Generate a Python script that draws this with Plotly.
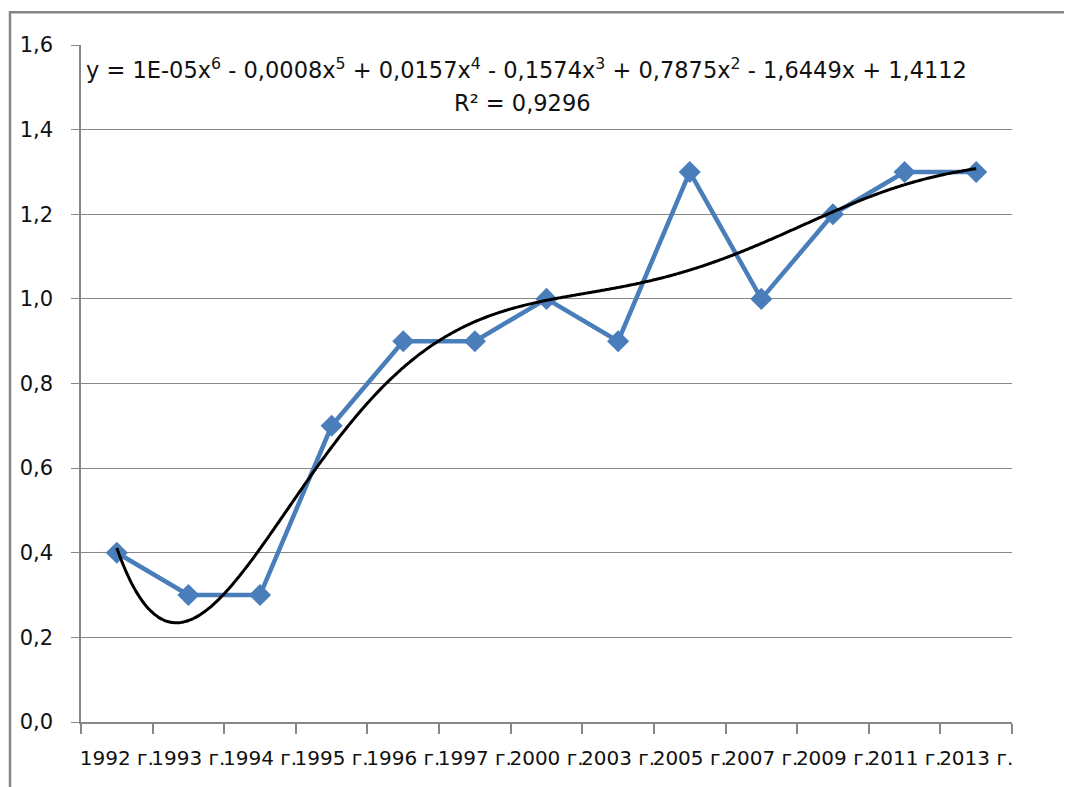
import numpy as np
import plotly.graph_objects as go

categories = ["1992 г.", "1993 г.", "1994 г.", "1995 г.", "1996 г.", "1997 г.",
              "2000 г.", "2003 г.", "2005 г.", "2007 г.", "2009 г.", "2011 г.", "2013 г."]
values = [0.4, 0.3, 0.3, 0.7, 0.9, 0.9, 1.0, 0.9, 1.3, 1.0, 1.2, 1.3, 1.3]
y_ticks = [0.0, 0.2, 0.4, 0.6, 0.8, 1.0, 1.2, 1.4, 1.6]
equation_text = ("y = 1E-05x<sup>6</sup> - 0,0008x<sup>5</sup> + 0,0157x<sup>4</sup> - 0,1574x<sup>3</sup>"
                 " + 0,7875x<sup>2</sup> - 1,6449x + 1,4112")
r2_text = "R² = 0,9296"

# category index positions (1..n), like Excel's trendline x
xs = np.arange(1, len(categories) + 1)

# polynomial (order 6) trendline fitted to the data, as Excel does
coef = np.polyfit(xs, values, 6)
x_fine = np.linspace(1, len(categories), 400)
y_fine = np.polyval(coef, x_fine)

FONT = "DejaVu Sans"
GRID = "#868686"
TXT = "#111111"

fig = go.Figure()
fig.add_trace(go.Scatter(
    x=xs, y=values, mode="lines+markers",
    line=dict(color="#4A7EBB", width=4.5),
    marker=dict(symbol="diamond", size=17, color="#4A7EBB"),
    showlegend=False, hoverinfo="skip",
))
fig.add_trace(go.Scatter(
    x=x_fine, y=y_fine, mode="lines",
    line=dict(color="#000000", width=3, shape="spline"),
    showlegend=False, hoverinfo="skip",
))

fig.update_layout(
    width=1072, height=787,
    margin=dict(l=73, r=68, t=37, b=73),
    paper_bgcolor="white", plot_bgcolor="white",
    separators=", ",
    font=dict(family=FONT, size=20, color=TXT),
    xaxis=dict(
        range=[0.5, len(categories) + 0.5],
        tickmode="array", tickvals=list(xs), ticktext=categories,
        tickangle=0, ticks="", showgrid=False, zeroline=False,
        showline=True, linecolor=GRID, linewidth=1.5,
        ticklabelstandoff=17,
        minor=dict(tickmode="array", tickvals=[v + 0.5 for v in range(len(categories) + 1)],
                   ticks="outside", ticklen=10, tickcolor=GRID, tickwidth=1.5, showgrid=False),
        tickfont=dict(family=FONT, size=20, color=TXT),
    ),
    yaxis=dict(
        range=[0, 1.6], tickmode="array", tickvals=y_ticks, tickformat=".1f",
        showgrid=True, gridcolor=GRID, gridwidth=1.2, zeroline=False,
        showline=True, linecolor=GRID, linewidth=1.5,
        ticks="outside", ticklen=8, tickcolor=GRID, tickwidth=1.2,
        ticklabelstandoff=14,
        tickfont=dict(family=FONT, size=21, color=TXT),
    ),
)

# outer chart-area border (extends beyond the visible window on right/bottom)
fig.add_shape(type="rect", xref="paper", yref="paper",
              x0=-71 / 931, x1=1.2, y0=-0.3, y1=710 / 677.3,
              line=dict(color=GRID, width=2.5), fillcolor="rgba(0,0,0,0)", layer="below")

fig.add_annotation(x=0.479, y=0.9656, xref="paper", yref="paper", text=equation_text,
                   showarrow=False, font=dict(family=FONT, size=22.5, color=TXT),
                   xanchor="center", yanchor="middle")
fig.add_annotation(x=0.474, y=0.914, xref="paper", yref="paper", text=r2_text,
                   showarrow=False, font=dict(family=FONT, size=22.5, color=TXT),
                   xanchor="center", yanchor="middle")

fig.write_html("out.html")
